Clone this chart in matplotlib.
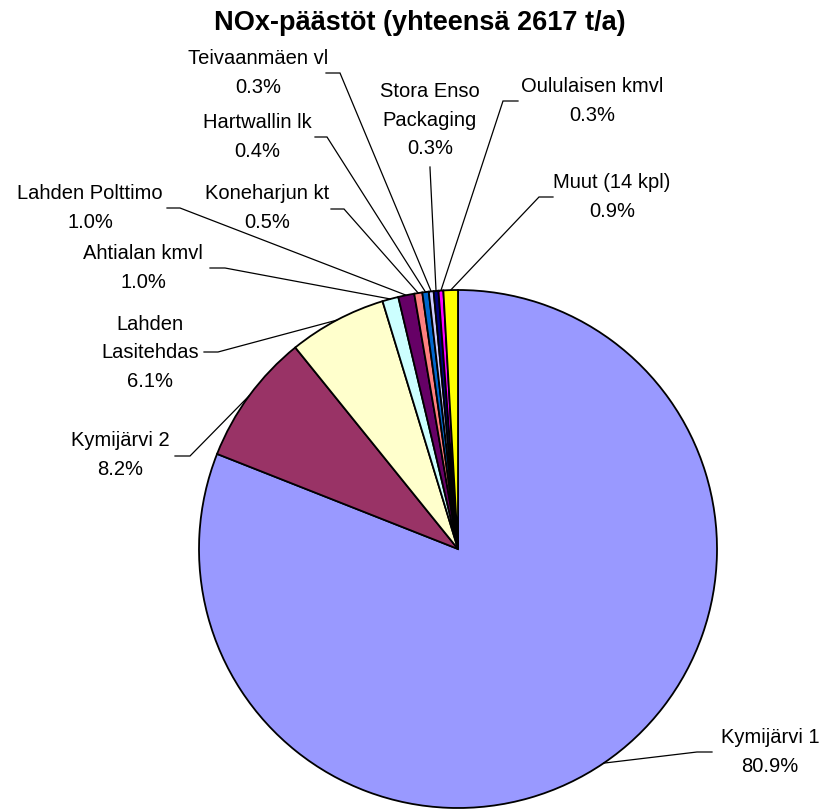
import matplotlib
matplotlib.use("Agg")
import matplotlib.pyplot as plt
import numpy as np

# ---- data ----
labels = ["Kymijärvi 1", "Kymijärvi 2", "Lahden\nLasitehdas", "Ahtialan kmvl",
          "Lahden Polttimo", "Koneharjun kt", "Hartwallin lk", "Teivaanmäen vl",
          "Stora Enso\nPackaging", "Oululaisen kmvl", "Muut (14 kpl)"]
shares = [80.9, 8.2, 6.1, 1.0, 1.0, 0.5, 0.4, 0.3, 0.3, 0.3, 0.9]
colors = ["#9999FF", "#993366", "#FFFFCC", "#CCFFFF", "#660066", "#FF8080",
          "#0066CC", "#CCCCFF", "#000080", "#FF00FF", "#FFFF00"]
title = "NOx-päästöt (yhteensä 2617 t/a)"

# ---- layout (pixel coordinates, y from top) ----
W, H = 820, 810
cx, cy, R = 458, 549, 259
# text center, elbow start (near text), elbow end
label_layout = [
    ((770, 752), (712, 752), (697, 752)),
    ((120, 455), (175, 456), (190, 456)),
    ((150, 353), (204, 352), (218, 352)),
    ((143, 268), (210, 268), (225, 268)),
    ((90, 208), (167, 208), (180, 208)),
    ((267, 208), (331, 209), (344, 209)),
    ((257, 137), (315, 137), (327, 137)),
    ((258, 73), (326, 73), (340, 73)),
    ((430, 120), (430, 167), (430, 168)),
    ((592, 101), (518, 101), (503, 101)),
    ((612, 197), (553, 197), (539, 197)),
]

fig = plt.figure(figsize=(W / 100, H / 100), dpi=100)
ax = fig.add_axes([0, 0, 1, 1])

def fy(y):
    return H - y

wedges, _ = ax.pie(shares, colors=colors, startangle=90, counterclock=False,
                   center=(cx, fy(cy)), radius=R,
                   wedgeprops=dict(edgecolor="black", linewidth=1.3))
ax.set_xlim(0, W)
ax.set_ylim(0, H)
ax.set_aspect("equal")
ax.axis("off")

font = "Liberation Sans"
for w, lab, val, (tc, e1, e2) in zip(wedges, labels, shares, label_layout):
    mid = np.deg2rad((w.theta1 + w.theta2) / 2)
    ex = cx + R * np.cos(mid)
    ey = fy(cy) + R * np.sin(mid)
    ax.plot([e1[0], e2[0], ex], [fy(e1[1]), fy(e2[1]), ey], color="black",
            lw=0.9, solid_joinstyle="miter")
    ax.text(tc[0], fy(tc[1]), f"{lab}\n{val:.1f}%", ha="center", va="center",
            fontsize=14.5, family=font, linespacing=1.63, color="black")

ax.text(420, fy(23), title, ha="center", va="center", fontsize=19.5,
        fontweight="bold", family=font)

fig.savefig("out.png", dpi=100)
